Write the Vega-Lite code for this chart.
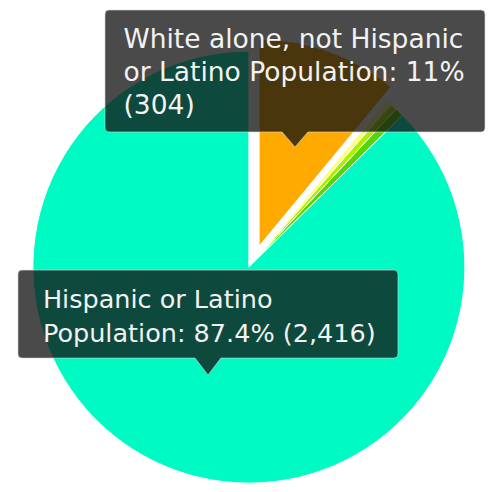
{
  "$schema": "https://vega.github.io/schema/vega-lite/v6.json",
  "width": 488,
  "height": 492,
  "autosize": {"type": "fit", "contains": "padding"},
  "padding": 0,
  "background": "#ffffff",
  "config": {"view": {"stroke": null}},
  "data": {
    "values": [
      {"group": "White alone, not Hispanic or Latino Population", "count": 304, "rank": 1},
      {"group": "Two or More Races, not Hispanic or Latino Population", "count": 12, "rank": 2},
      {"group": "Black or African American alone, not Hispanic or Latino Population", "count": 14, "rank": 3},
      {"group": "Other races, not Hispanic or Latino Population", "count": 18, "rank": 4},
      {"group": "Hispanic or Latino Population", "count": 2416, "rank": 5}
    ]
  },
  "layer": [
    {
      "mark": {"type": "arc", "radius": 216, "stroke": "#ffffff", "strokeWidth": 1},
      "encoding": {
        "x": {"datum": 51.0, "type": "quantitative", "scale": {"domain": [0, 100], "nice": false}, "axis": null},
        "y": {"datum": 54.3, "type": "quantitative", "scale": {"domain": [0, 100], "nice": false, "reverse": true}, "axis": null},
        "theta": {"field": "count", "type": "quantitative", "stack": true},
        "order": {"field": "rank", "type": "quantitative"},
        "color": {
          "field": "group", "type": "nominal", "legend": null,
          "scale": {
            "domain": ["White alone, not Hispanic or Latino Population", "Two or More Races, not Hispanic or Latino Population", "Black or African American alone, not Hispanic or Latino Population", "Other races, not Hispanic or Latino Population", "Hispanic or Latino Population"],
            "range": ["#ffaa00", "#fdfd8a", "#b0ee00", "#55d800", "#00fac4"]
          }
        },
        "opacity": {"condition": {"test": "datum.rank === 1", "value": 0}, "value": 1}
      }
    },
    {
      "mark": {"type": "arc", "radius": 208, "stroke": "#ffffff", "strokeWidth": 1.5},
      "encoding": {
        "x": {"datum": 53.05, "type": "quantitative", "scale": {"domain": [0, 100], "nice": false}, "axis": null},
        "y": {"datum": 50.2, "type": "quantitative", "scale": {"domain": [0, 100], "nice": false, "reverse": true}, "axis": null},
        "theta": {"field": "count", "type": "quantitative", "stack": true},
        "order": {"field": "rank", "type": "quantitative"},
        "color": {"field": "group", "type": "nominal", "legend": null},
        "opacity": {"condition": {"test": "datum.rank === 1", "value": 1}, "value": 0}
      }
    },
    {
      "transform": [{"filter": "datum.rank === 1"}],
      "mark": {
        "type": "point",
        "shape": "M0,0L-0.068,-0.079L-0.979,-0.079Q-1,-0.079,-1,-0.1L-1,-0.7Q-1,-0.721,-0.979,-0.721L0.979,-0.721Q1,-0.721,1,-0.7L1,-0.1Q1,-0.079,0.979,-0.079L0.068,-0.079Z",
        "size": 144400,
        "filled": true,
        "fill": "#111111",
        "fillOpacity": 0.76,
        "stroke": "#d8d8d8",
        "strokeWidth": 1,
        "strokeOpacity": 0.6
      },
      "encoding": {
        "x": {"datum": 60.45, "type": "quantitative", "scale": {"domain": [0, 100], "nice": false}, "axis": null},
        "y": {"datum": 29.88, "type": "quantitative", "scale": {"domain": [0, 100], "nice": false, "reverse": true}, "axis": null}
      }
    },
    {
      "transform": [{"filter": "datum.rank === 5"}],
      "mark": {
        "type": "point",
        "shape": "M0,0L-0.068,-0.089L-0.979,-0.089Q-1,-0.089,-1,-0.11L-1,-0.531Q-1,-0.552,-0.979,-0.552L0.979,-0.552Q1,-0.552,1,-0.531L1,-0.11Q1,-0.089,0.979,-0.089L0.068,-0.089Z",
        "size": 144400,
        "filled": true,
        "fill": "#111111",
        "fillOpacity": 0.76,
        "stroke": "#d8d8d8",
        "strokeWidth": 1,
        "strokeOpacity": 0.6
      },
      "encoding": {
        "x": {"datum": 42.62, "type": "quantitative", "scale": {"domain": [0, 100], "nice": false}, "axis": null},
        "y": {"datum": 76.22, "type": "quantitative", "scale": {"domain": [0, 100], "nice": false, "reverse": true}, "axis": null}
      }
    },
    {
      "transform": [{"filter": "datum.rank === 1"}],
      "mark": {
        "type": "text",
        "text": ["White alone, not Hispanic", "or Latino Population: 11%", "(304)"],
        "align": "left",
        "baseline": "alphabetic",
        "font": "DejaVu Sans",
        "fontSize": 26.5,
        "lineHeight": 33,
        "color": "#f2f2f2"
      },
      "encoding": {
        "x": {"datum": 25.3, "type": "quantitative", "scale": {"domain": [0, 100], "nice": false}, "axis": null},
        "y": {"datum": 9.8, "type": "quantitative", "scale": {"domain": [0, 100], "nice": false, "reverse": true}, "axis": null}
      }
    },
    {
      "transform": [{"filter": "datum.rank === 5"}],
      "mark": {
        "type": "text",
        "text": ["Hispanic or Latino", "Population: 87.4% (2,416)"],
        "align": "left",
        "baseline": "alphabetic",
        "font": "DejaVu Sans",
        "fontSize": 25.5,
        "lineHeight": 34,
        "color": "#f2f2f2"
      },
      "encoding": {
        "x": {"datum": 8.8, "type": "quantitative", "scale": {"domain": [0, 100], "nice": false}, "axis": null},
        "y": {"datum": 62.6, "type": "quantitative", "scale": {"domain": [0, 100], "nice": false, "reverse": true}, "axis": null}
      }
    }
  ]
}
